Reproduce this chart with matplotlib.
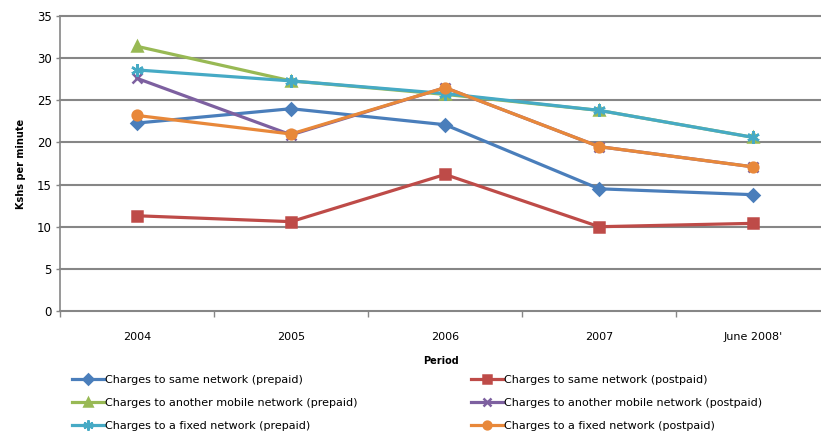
import matplotlib.pyplot as plt
from matplotlib.ticker import FixedLocator

periods = ["2004", "2005", "2006", "2007", "June 2008'"]

same_prepaid = [22.3, 24.0, 22.1, 14.5, 13.8]
same_postpaid = [11.3, 10.6, 16.2, 10.0, 10.4]
other_prepaid = [31.4, 27.3, 25.7, 23.8, 20.6]
other_postpaid = [27.6, 20.9, 26.5, 19.5, 17.1]
fixed_prepaid = [28.6, 27.3, 25.8, 23.8, 20.6]
fixed_postpaid = [23.2, 21.0, 26.5, 19.5, 17.1]

labels = [
    "Charges to same network (prepaid)",
    "Charges to same network (postpaid)",
    "Charges to another mobile network (prepaid)",
    "Charges to another mobile network (postpaid)",
    "Charges to a fixed network (prepaid)",
    "Charges to a fixed network (postpaid)",
]

plt.rcParams['font.family'] = ['Liberation Sans Narrow', 'DejaVu Sans']

fig = plt.figure(figsize=(8.21, 4.36), dpi=100)
ax = fig.add_axes([60 / 821, 125 / 436, 761 / 821, 295 / 436])

x = list(range(len(periods)))
series = [
    (same_prepaid, "#4A7EBB", "D", 6),
    (same_postpaid, "#BE4B48", "s", 7),
    (other_prepaid, "#98B954", "^", 7),
    (other_postpaid, "#7D60A0", "x", 7),
    (fixed_prepaid, "#46AAC5", (6, 2, 0), 9),
    (fixed_postpaid, "#E8883A", "o", 7),
]
handles = []
for (vals, col, mk, ms), lab in zip(series, labels):
    h, = ax.plot(x, vals, color=col, lw=2.3, marker=mk, ms=ms,
                 mew=1.8, mec=col, mfc=col, label=lab, zorder=3)
    handles.append(h)

ax.set_ylim(0, 35)
ax.set_yticks(range(0, 36, 5))
ax.set_xlim(-0.5, 4.44)
ax.set_xticks(x)
ax.set_xticklabels(periods)
ax.xaxis.set_minor_locator(FixedLocator([-0.5, 0.5, 1.5, 2.5, 3.5]))
ax.tick_params(axis='x', which='major', length=0, pad=15, labelsize=8)
ax.tick_params(axis='x', which='minor', length=4, width=1, color="#868686")
ax.tick_params(axis='y', length=3, width=1, color="#868686", labelsize=8.5, pad=3)

ax.grid(axis='y', color="#868686", lw=1.5)
ax.set_axisbelow(True)
for gl in ax.get_ygridlines():
    gl.set_clip_on(False)
for s in ["top", "right"]:
    ax.spines[s].set_visible(False)
for s in ["left", "bottom"]:
    ax.spines[s].set_color("#868686")
    ax.spines[s].set_linewidth(1.2)

ax.set_ylabel("Kshs per minute", fontsize=7, fontweight="bold", labelpad=8)
ax.set_xlabel("Period", fontsize=7, fontweight="bold", labelpad=10)

# legend fills columns first, so reorder to get the rows paired
order = [0, 2, 4, 1, 3, 5]
fig.legend([handles[i] for i in order], [labels[i] for i in order],
           ncol=2, loc="upper left", bbox_to_anchor=(72 / 821, 1 - 375 / 436),
           frameon=False, fontsize=8, handlelength=2.9, handletextpad=0.1,
           markerscale=0.8, columnspacing=10.2, labelspacing=1.15,
           borderaxespad=0, borderpad=0)

fig.savefig("out.png", dpi=100)
